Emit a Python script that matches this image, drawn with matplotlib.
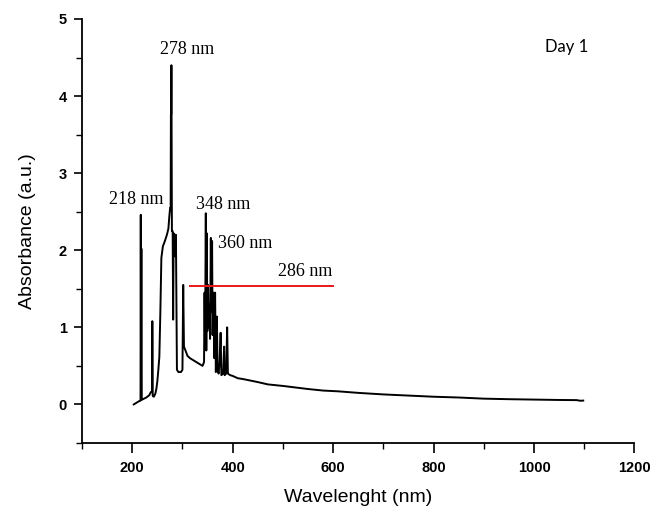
import matplotlib
matplotlib.use("Agg")
import matplotlib.pyplot as plt
from matplotlib.ticker import MultipleLocator

wavelength = [203, 208, 213, 216.5, 217, 217.6, 218.2, 218.8, 222, 228, 234, 237, 239.5, 240, 240.8, 243, 246,
              248, 250, 252, 254, 256, 258, 261, 265, 269, 272, 274, 275.5, 276.5, 277, 277.6, 278,
              279, 280.5, 281.5, 282.5, 285, 286, 287, 289, 292, 297, 300, 301.5, 303, 306,
              310, 315, 320, 325, 330, 335, 340, 343, 344, 345, 346.5, 347.5, 348.5, 349.5, 351, 352,
              353.5, 355, 356.5, 357.5, 359, 360, 362, 363.5, 365, 366.5, 368.5, 370, 372, 374, 376,
              377.5, 381, 383, 384, 387, 389, 390.5, 395, 400, 410, 420, 435, 450, 470, 500, 525, 550,
              580, 610, 650, 700, 750, 800, 850, 900, 950, 1000, 1050, 1085, 1092, 1098]
absorbance = [0.00, 0.02, 0.04, 0.05, 2.46, 0.08, 2.02, 0.06, 0.07, 0.09, 0.12, 0.16, 0.16, 1.08, 0.11, 0.10, 0.14,
              0.20, 0.30, 0.45, 0.62, 1.20, 1.90, 2.05, 2.12, 2.20, 2.28, 2.45, 2.55, 2.55, 3.76, 3.76, 4.40,
              2.25, 2.25, 1.10, 2.22, 2.20, 1.92, 2.20, 0.45, 0.42, 0.42, 0.45, 1.55, 0.75, 0.70,
              0.63, 0.60, 0.58, 0.56, 0.54, 0.52, 0.50, 0.55, 1.45, 0.75, 2.48, 0.70, 2.22, 0.95, 1.55, 1.00,
              1.30, 0.85, 2.16, 1.20, 2.12, 0.90, 1.45, 0.60, 1.45, 0.42, 1.14, 0.45, 0.40, 0.55, 0.93,
              0.38, 0.40, 0.75, 0.38, 0.40, 1.00, 0.40, 0.38, 0.37, 0.34, 0.33, 0.31, 0.29, 0.26, 0.24, 0.22, 0.20,
              0.18, 0.17, 0.15, 0.13, 0.115, 0.10, 0.09, 0.075, 0.068, 0.063, 0.058, 0.056, 0.048, 0.05]

marker_wl = [315, 600]
marker_abs = [1.54, 1.54]

peak_labels = ["278 nm", "218 nm", "348 nm", "360 nm", "286 nm"]

fig = plt.figure(figsize=(6.54, 5.09), dpi=100)
ax = fig.add_axes([0.1254, 0.1297, 0.8447, 0.8330])

ax.plot(wavelength, absorbance, color="black", lw=1.4)
ax.plot(marker_wl, marker_abs, color="#e8191c", lw=1.4)

serif = dict(family="Liberation Serif", fontsize=13, ha="center", va="center")
ax.text(309, 4.61, peak_labels[0], **serif)
ax.text(208, 2.66, peak_labels[1], **serif)
ax.text(382, 2.60, peak_labels[2], **serif)
ax.text(424, 2.09, peak_labels[3], **serif)
ax.text(545, 1.73, peak_labels[4], **serif)
ax.text(1065, 4.64, "Day 1", family="Lato", fontsize=12, ha="center", va="center")

ax.set_xlim(100, 1200)
ax.set_ylim(-0.5, 5)
ax.xaxis.set_major_locator(MultipleLocator(200))
ax.xaxis.set_minor_locator(MultipleLocator(100))
ax.yaxis.set_major_locator(MultipleLocator(1))
ax.yaxis.set_minor_locator(MultipleLocator(0.5))
ax.set_xticks([200, 400, 600, 800, 1000, 1200])

for s in ["top", "right"]:
    ax.spines[s].set_visible(False)
for s in ["left", "bottom"]:
    ax.spines[s].set_linewidth(1.3)

ax.tick_params(axis="x", which="major", direction="out", length=7, width=1.2, pad=6)
ax.tick_params(axis="y", which="major", direction="out", length=6, width=1.2, pad=5)
ax.tick_params(which="minor", direction="out", length=4, width=1.0)
for lab in ax.get_xticklabels() + ax.get_yticklabels():
    lab.set_family("Liberation Sans")
    lab.set_fontweight("bold")
    lab.set_fontsize(10.5)

ax.set_xlabel("Wavelenght (nm)", family="Liberation Sans", fontsize=14, labelpad=10)
ax.set_ylabel("Absorbance (a.u.)", family="Liberation Sans", fontsize=14, labelpad=16)

fig.savefig("out.png", dpi=100)
